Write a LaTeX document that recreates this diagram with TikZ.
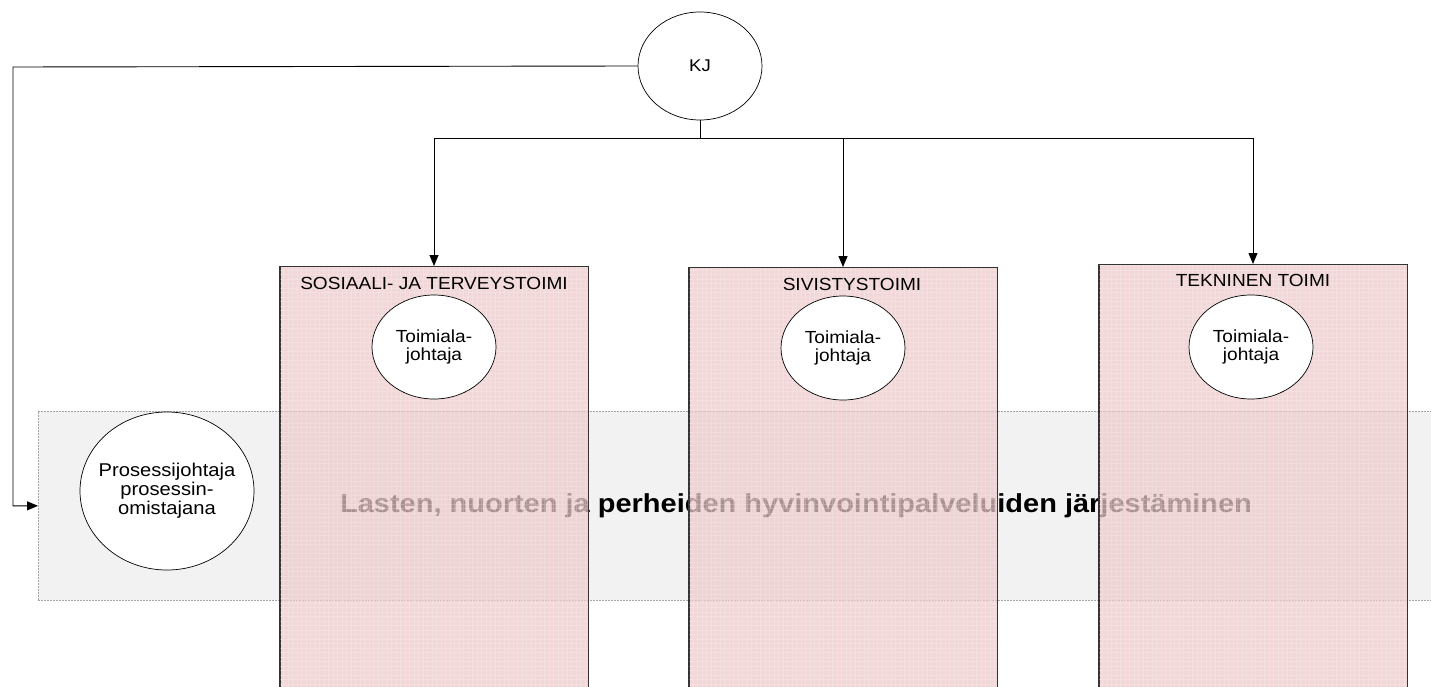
\documentclass[tikz,border=0pt]{standalone}
\usepackage{fontspec}
\setmainfont{Liberation Sans}
\usetikzlibrary{arrows.meta,shapes.geometric}
\definecolor{boxpink}{RGB}{236,200,200}
\definecolor{bandgray}{RGB}{242,242,242}
\newcommand\sx[1]{\scalebox{1.09}[1]{#1}}
\newcommand\sxb[1]{\scalebox{1.115}[1]{#1}}
\begin{document}
\begin{tikzpicture}[x=1pt,y=-1pt,
  arr/.style={-{Triangle[length=11pt,width=9pt]}, line width=0.9pt},
  conn/.style={line width=0.9pt},
  unit/.style={draw=black!80, fill=boxpink, fill opacity=0.72, draw opacity=1, line width=0.9pt,
    minimum width=308pt, minimum height=430pt, anchor=north, inner sep=0pt},
  role/.style={ellipse, draw, fill=white, line width=0.7pt, minimum width=124pt, minimum height=104pt,
    inner sep=0pt, font=\fontsize{17.5}{18.5}\selectfont, align=center},
  title/.style={font=\fontsize{17.5}{20}\selectfont, inner sep=0pt},
  gridln/.style={white, opacity=0.22, line width=0.5pt},
]
\useasboundingbox (0,0) rectangle (1431,687);
% process band
\node[draw=gray!70, dash pattern=on 2pt off 1pt, fill=bandgray, line width=0.7pt,
  minimum width=1420pt, minimum height=189pt, anchor=north west, inner sep=0pt] (band) at (38,411) {};
\node[font=\fontsize{26}{30}\selectfont\bfseries, inner sep=0pt] (bandtext) at (796,506)
  {\sxb{Lasten, nuorten ja perheiden hyvinvointipalveluiden järjestäminen}};
\node[role, minimum width=174pt, minimum height=158pt,
  label={[align=center, inner sep=0pt, font=\fontsize{18.5}{19}\selectfont]center:{\sx{Prosessijohtaja}\\\sx{prosessin-}\\\sx{omistajana}}}] (pj) at (167,491) {};
% units
\node[unit] (u1) at (434,266) {};
\node[unit] (u2) at (843,267) {};
\node[unit] (u3) at (1253,264) {};
\foreach \nm in {u1,u2,u3}{
  \begin{scope}
    \clip (\nm.north west) rectangle (\nm.south east);
    \draw[gridln, step=4.5pt] (\nm.north west) grid (\nm.south east);
  \end{scope}
  \draw[black!80, line width=0.9pt] (\nm.north west) rectangle (\nm.south east);
}
\node[title] (tt1) at (434,283) {\sx{SOSIAALI- JA TERVEYSTOIMI}};
\node[title] (tt2) at (852,284) {\sx{SIVISTYSTOIMI}};
\node[title] (tt3) at (1253,280) {\sx{TEKNINEN TOIMI}};
\node[role] (r1) at (434,347) {\sx{Toimiala-}\\\sx{johtaja}};
\node[role] (r2) at (843,348) {\sx{Toimiala-}\\\sx{johtaja}};
\node[role] (r3) at (1251,347) {\sx{Toimiala-}\\\sx{johtaja}};
% top
\node[ellipse, draw, fill=white, line width=0.7pt, minimum width=124pt, minimum height=108pt,
  inner sep=0pt, font=\fontsize{17}{20}\selectfont] (kj) at (700,66) {\sx{KJ}};
% connectors
\coordinate (lc) at (13,67);
\draw[arr] (kj.west) -- (lc) |- (band.west);
\coordinate (bus) at (700,138);
\draw[conn] (kj.south) -- (bus);
\draw[conn] (u1.north |- bus) -- (u3.north |- bus);
\foreach \nm in {u1,u2,u3}{
  \draw[arr] (\nm.north |- bus) -- (\nm.north);
}
\end{tikzpicture}
\end{document}
